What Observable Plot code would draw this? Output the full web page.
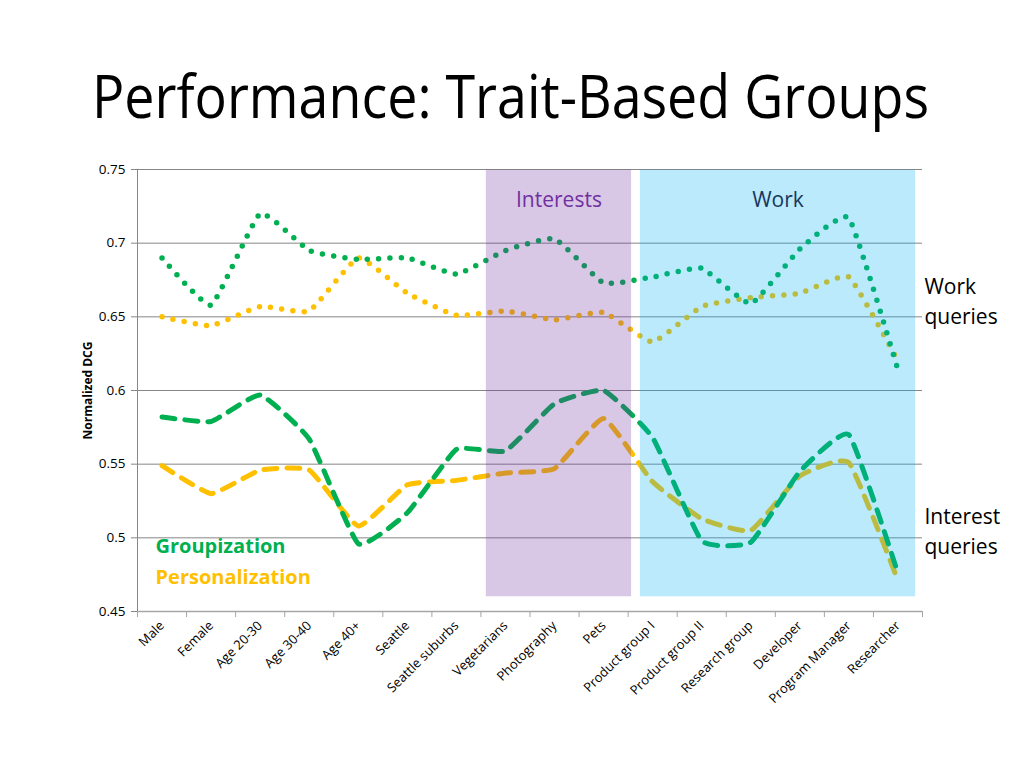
<!DOCTYPE html>
<html>
<head>
<meta charset="utf-8">
<script src="https://cdn.jsdelivr.net/npm/d3@7"></script>
<script src="https://cdn.jsdelivr.net/npm/@observablehq/plot@0.6"></script>
<style>
  html, body { margin: 0; padding: 0; background: #fff; width: 1024px; height: 768px; overflow: hidden; }
  #title { position: absolute; left: 92px; top: 65px; font-family: "Open Sans", sans-serif; font-size: 60px; line-height: 60px; white-space: nowrap; transform-origin: 0 0; color: #000; }
  #chart { position: absolute; left: 0; top: 0; }
</style>
</head>
<body>
<div id="chart"></div>
<div id="title">Performance: Trait-Based Groups</div>
<script>
const categories = ["Male","Female","Age 20-30","Age 30-40","Age 40+","Seattle","Seattle suburbs","Vegetarians","Photography","Pets","Product group I","Product group II","Research group","Developer","Program Manager","Researcher"];
const groupWork      = [0.690,0.658,0.720,0.695,0.689,0.690,0.679,0.695,0.703,0.673,0.677,0.683,0.659,0.696,0.717,0.614];
const persWork       = [0.650,0.644,0.657,0.654,0.690,0.666,0.651,0.654,0.648,0.653,0.633,0.657,0.663,0.666,0.677,0.620];
const groupInterest  = [0.582,0.579,0.597,0.567,0.496,0.517,0.560,0.559,0.591,0.600,0.568,0.498,0.497,0.545,0.570,0.476];
const persInterest   = [0.549,0.530,0.546,0.546,0.508,0.536,0.539,0.544,0.547,0.581,0.538,0.513,0.505,0.542,0.551,0.471];
const yTicks = [0.45,0.5,0.55,0.6,0.65,0.7,0.75];
const bandNames = ["Interests","Work"];
const bandStart = [6.61, 9.75];
const bandEnd   = [9.57, 15.36];
const bandColors = ["#7030A0","#00B0F0"];
const bandTextColors = ["#7030A0","#17375E"];

const GREEN = "#00B050", YELLOW = "#FFC000";
const idx = categories.map((_, i) => i);
const bounds = d3.range(-0.5, categories.length, 1);
const bands = bandNames.map((n, i) => ({name: n, x1: bandStart[i], x2: bandEnd[i], fill: bandColors[i], tc: bandTextColors[i]}));
const font = "Open Sans";

const dotted = {strokeWidth: 5.5, strokeDasharray: "0 11.3", strokeLinecap: "round", curve: "cardinal", tension: 0.6};
const dashed = {strokeWidth: 5, strokeDasharray: "13 10", strokeLinecap: "round", curve: "cardinal", tension: 0.6};

const chart = Plot.plot({
  width: 1024,
  height: 768,
  marginLeft: 137,
  marginRight: 102,
  marginTop: 169,
  marginBottom: 157,
  style: {fontFamily: font, fontSize: "13px", background: "white", overflow: "visible"},
  x: {type: "linear", domain: [-0.5, categories.length - 0.5]},
  y: {type: "linear", domain: [0.45, 0.75]},
  marks: [
    Plot.ruleY(yTicks.slice(1), {stroke: "#868686", strokeWidth: 1}),
    Plot.ruleY([0.45], {stroke: "#A6A6A6", strokeWidth: 1.5}),
    Plot.ruleX([-0.5], {stroke: "#868686", strokeWidth: 1}),
    Plot.axisY({ticks: yTicks, tickFormat: d => String(d), tickSize: 6, tickPadding: 6, fontSize: 13.5, label: null, stroke: "#868686", color: "#000"}),
    Plot.axisX({ticks: bounds, tickFormat: () => "", tickSize: 6, label: null, stroke: "#A6A6A6"}),
    Plot.axisX({ticks: idx, tickFormat: i => categories[i], tickSize: 0, tickPadding: 12, tickRotate: -45, fontSize: 13, label: null, color: "#000"}),
    Plot.line(persWork, {x: idx, y: d => d, stroke: YELLOW, ...dotted}),
    Plot.line(groupWork, {x: idx, y: d => d, stroke: GREEN, ...dotted}),
    Plot.line(persInterest, {x: idx, y: d => d, stroke: YELLOW, ...dashed}),
    Plot.line(groupInterest, {x: idx, y: d => d, stroke: GREEN, ...dashed}),
    Plot.rect(bands, {x1: "x1", x2: "x2", y1: 0.46, y2: 0.7495, fill: "fill", fillOpacity: 0.27}),
    Plot.text(bands, {x: d => (d.x1 + d.x2) / 2, y: 0.729, text: "name", fill: "tc", fontSize: 21}),
    Plot.text(["Work\nqueries"], {x: 15.54, y: 0.662, text: d => d, textAnchor: "start", fontSize: 21, lineHeight: 1.43, fill: "#000"}),
    Plot.text(["Interest\nqueries"], {x: 15.54, y: 0.5056, text: d => d, textAnchor: "start", fontSize: 21, lineHeight: 1.43, fill: "#000"}),
    Plot.text(["Groupization"], {x: -0.133, y: 0.494, text: d => d, textAnchor: "start", fontSize: 20, fontWeight: "bold", fill: GREEN}),
    Plot.text(["Personalization"], {x: -0.133, y: 0.4733, text: d => d, textAnchor: "start", fontSize: 20, fontWeight: "bold", fill: YELLOW}),
    Plot.text(["Normalized DCG"], {frameAnchor: "left", dx: -49, rotate: -90, textAnchor: "middle", text: d => d, fontSize: 12, fontWeight: "bold", fill: "#000"})
  ]
});
document.getElementById("chart").appendChild(chart);

const t = document.getElementById("title");
const w = t.getBoundingClientRect().width;
t.style.transform = `scaleX(${837 / w})`;
</script>
</body>
</html>
